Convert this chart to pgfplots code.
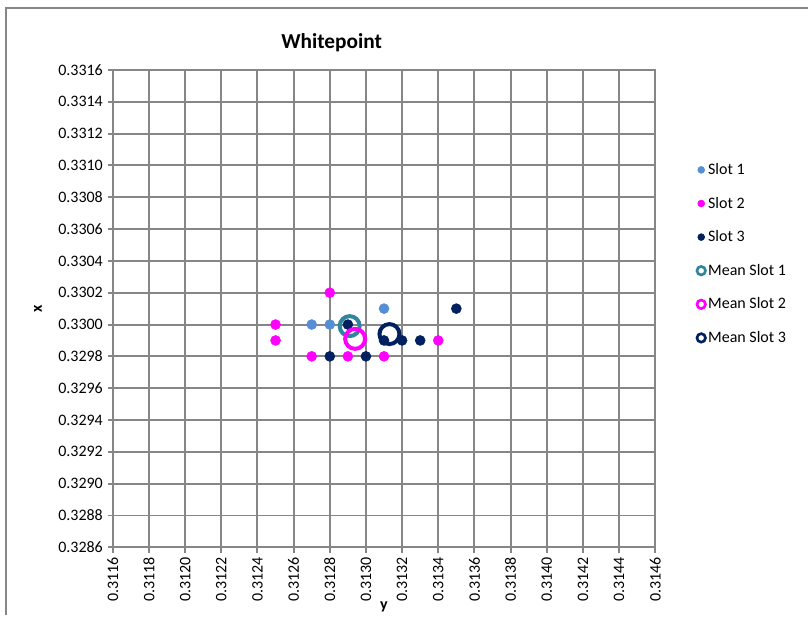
\documentclass[border=0pt]{standalone}
\usepackage{fontspec}
\setmainfont{Carlito}
\usepackage{pgfplots}
\pgfplotsset{compat=1.18}
\definecolor{sone}{RGB}{85,142,213}
\definecolor{stwo}{RGB}{255,0,255}
\definecolor{sthree}{RGB}{0,32,96}
\definecolor{mone}{RGB}{49,133,156}
\definecolor{gridc}{RGB}{134,134,134}
\begin{document}
\begin{tikzpicture}[x=0.75pt,y=0.75pt]
\path (0,0) rectangle (809,616);
\draw[gridc, line width=1.5pt] (6,0) -- (6,608) -- (809,608);
\node[font=\bfseries\fontsize{16}{19}\selectfont] at (332,573) {Whitepoint};
\begin{axis}[
  at={(84.75pt,51pt)}, anchor=south west,
  scale only axis, width=407.25pt, height=358.5pt,
  xmin=0.3116, xmax=0.3146, ymin=0.3286, ymax=0.3316,
  xtick={0.3116,0.3118,0.3120,0.3122,0.3124,0.3126,0.3128,0.3130,0.3132,0.3134,0.3136,0.3138,0.3140,0.3142,0.3144,0.3146},
  ytick={0.3286,0.3288,0.3290,0.3292,0.3294,0.3296,0.3298,0.3300,0.3302,0.3304,0.3306,0.3308,0.3310,0.3312,0.3314,0.3316},
  scaled ticks=false,
  grid=major,
  major grid style={gridc, line width=1.5pt},
  axis line style={gridc, line width=1.5pt},
  tick style={gridc, line width=1.5pt},
  major tick length=4pt, tick align=outside,
  xtick pos=bottom, ytick pos=left,
  /pgf/number format/fixed, /pgf/number format/fixed zerofill,
  /pgf/number format/precision=4,
  /pgf/number format/assume math mode=true,
  xticklabel style={rotate=90, anchor=east, font=\fontsize{12}{14}\selectfont},
  yticklabel style={font=\fontsize{12}{14}\selectfont},
  xlabel={\textbf{y}}, ylabel={\textbf{x}},
  xlabel style={at={(axis description cs:0.5,-0.125)}, anchor=center, font=\fontsize{12}{14}\selectfont},
  ylabel style={at={(axis description cs:-0.138,0.5)}, anchor=center, font=\fontsize{12}{14}\selectfont},
  legend style={at={(axis description cs:1.0765,0.816)}, anchor=north west, draw=none, fill=none,
    font=\fontsize{12}{14}\selectfont, row sep=11.4pt, inner xsep=0pt},
  legend cell align=left,
]
\addplot[only marks, mark=*, mark size=3.75pt, color=sone, legend image post style={mark size=2.6pt}] coordinates {
 (0.3127,0.3300) (0.3128,0.3300) (0.3131,0.3301)};
\addlegendentry{Slot 1}
\addplot[only marks, mark=*, mark size=3.75pt, color=stwo, legend image post style={mark size=2.6pt}] coordinates {
 (0.3128,0.3302) (0.3125,0.3300) (0.3125,0.3299) (0.3127,0.3298) (0.3129,0.3298) (0.3131,0.3298) (0.3134,0.3299)};
\addlegendentry{Slot 2}
\addplot[only marks, mark=*, mark size=3.75pt, color=sthree, legend image post style={mark size=2.6pt}] coordinates {
 (0.3129,0.3300) (0.3128,0.3298) (0.3130,0.3298) (0.3131,0.3299) (0.3132,0.3299) (0.3133,0.3299) (0.3135,0.3301)};
\addlegendentry{Slot 3}
\addplot[only marks, mark=o, mark size=7.5pt, line width=3pt, color=mone, legend image post style={mark size=3.2pt, line width=2pt}] coordinates {
 (0.31291,0.32999)};
\addlegendentry{Mean Slot 1}
\addplot[only marks, mark=o, mark size=7.5pt, line width=3pt, color=stwo, legend image post style={mark size=3.2pt, line width=2pt}] coordinates {
 (0.31294,0.32991)};
\addlegendentry{Mean Slot 2}
\addplot[only marks, mark=o, mark size=7.5pt, line width=3pt, color=sthree, legend image post style={mark size=3.2pt, line width=2pt}] coordinates {
 (0.31313,0.32994)};
\addlegendentry{Mean Slot 3}
\end{axis}
\end{tikzpicture}
\end{document}
